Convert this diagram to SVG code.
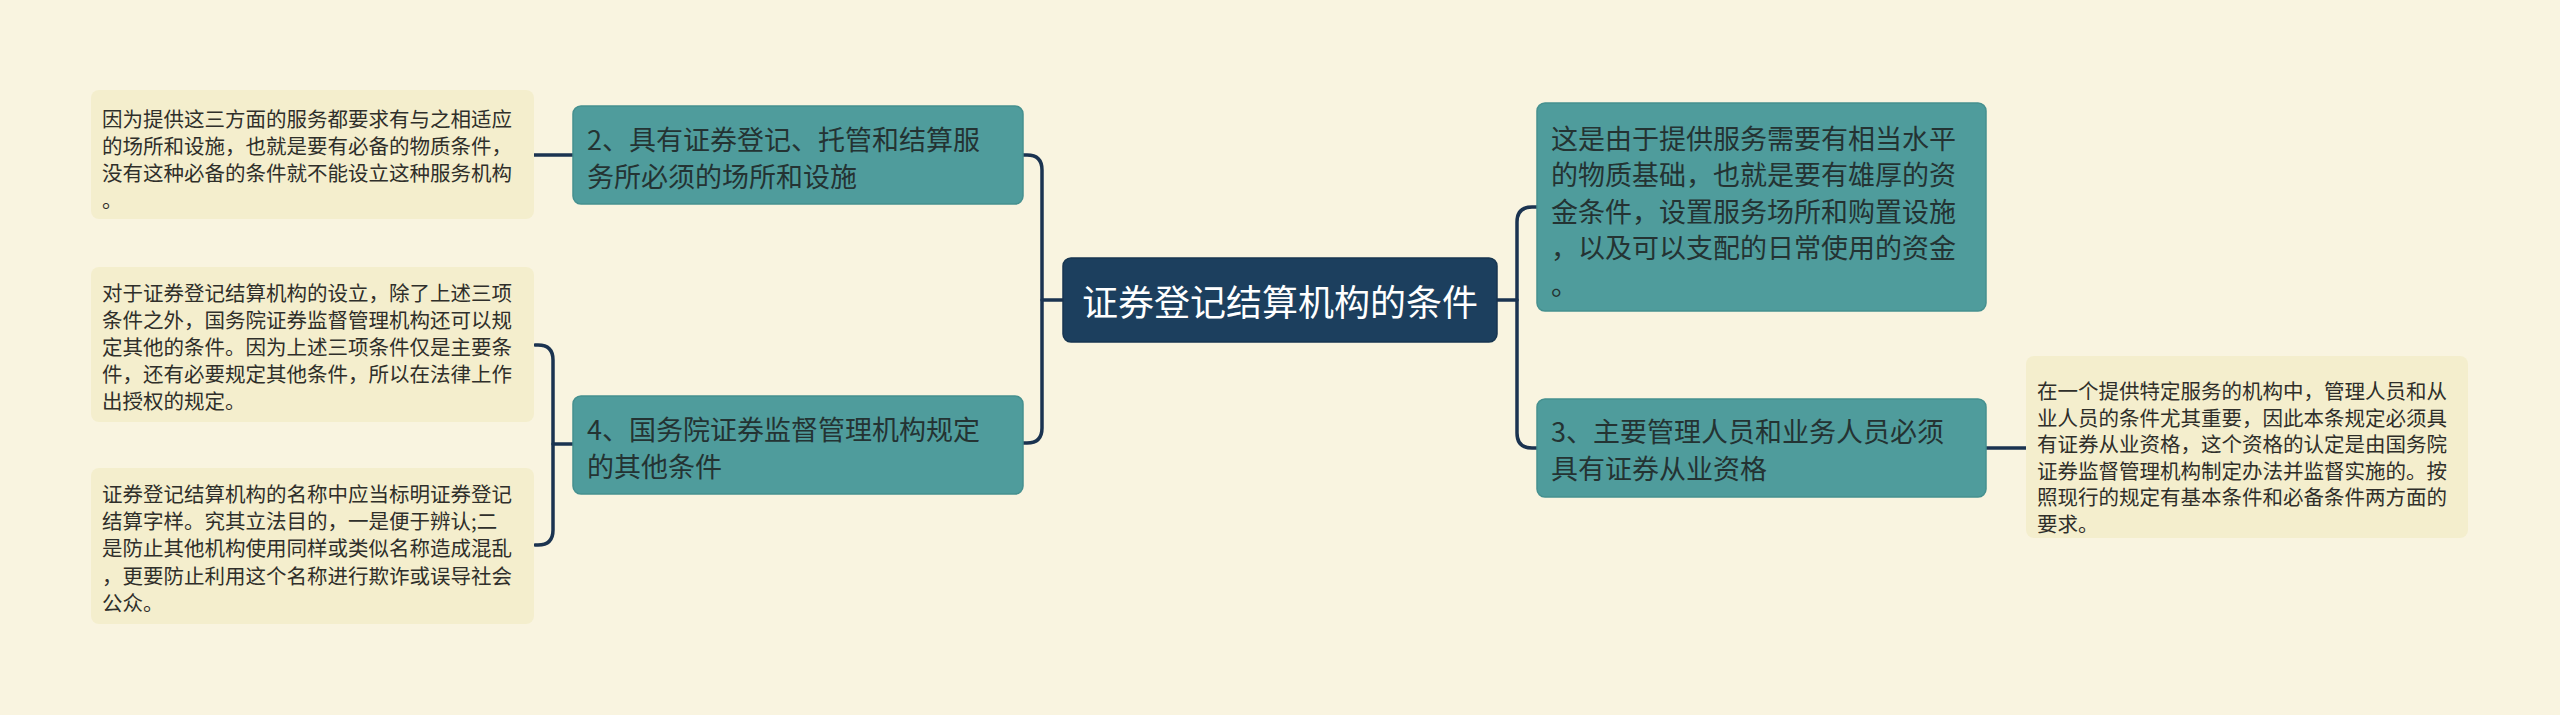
<svg xmlns="http://www.w3.org/2000/svg" width="2560" height="715" viewBox="0 0 2560 715">
<style>
.bg{fill:#f9f4e0}
.leaf{fill:#f4eecd;stroke:none}
.branch{fill:#4f9c9c;stroke:#45908f;stroke-width:1.5}
.root{fill:#1c3f5e;stroke:#173550;stroke-width:1.5}
.conn{fill:none;stroke:#1b3350;stroke-width:3.5;stroke-linecap:round}
text{font-family:"Noto Sans CJK SC","Noto Sans",sans-serif;dominant-baseline:central}
.lt{font-size:20.5px;fill:#2f2f2a}
.bt{font-size:27px;fill:#243333}
.rt{font-size:36px;fill:#ffffff}
</style>
<rect class="bg" x="0" y="0" width="2560" height="715"/>
<g id="connectors">
<path class="conn" d="M1063 300 H1042"/>
<path class="conn" d="M1023 155 H1027 Q1042 155 1042 170 V428 Q1042 443 1027 443 H1023"/>
<path class="conn" d="M1497 300 H1517"/>
<path class="conn" d="M1537 207 H1532 Q1517 207 1517 222 V433 Q1517 448 1532 448 H1537"/>
<path class="conn" d="M534 155 H573"/>
<path class="conn" d="M573 444 H553"/>
<path class="conn" d="M535 345 H538 Q553 345 553 360 V530 Q553 545 538 545 H535"/>
<path class="conn" d="M1986 448 H2026"/>
</g>
<g id="root">
<rect class="root" x="1063" y="258" width="434" height="84" rx="8"/>
<text class="rt" x="1280" y="300" text-anchor="middle">证券登记结算机构的条件</text>
</g>
<g id="b2">
<rect class="branch" x="573" y="106" width="450" height="98" rx="8"/>
<text class="bt" x="587" y="138">2、具有证券登记、托管和结算服</text>
<text class="bt" x="587" y="175">务所必须的场所和设施</text>
</g>
<g id="b4">
<rect class="branch" x="573" y="396" width="450" height="98" rx="8"/>
<text class="bt" x="587" y="428">4、国务院证券监督管理机构规定</text>
<text class="bt" x="587" y="465">的其他条件</text>
</g>
<g id="b1">
<rect class="branch" x="1537" y="103" width="449" height="208" rx="8"/>
<text class="bt" x="1551" y="137">这是由于提供服务需要有相当水平</text>
<text class="bt" x="1551" y="173">的物质基础，也就是要有雄厚的资</text>
<text class="bt" x="1551" y="210">金条件，设置服务场所和购置设施</text>
<text class="bt" x="1551" y="246">，以及可以支配的日常使用的资金</text>
<text class="bt" x="1551" y="283">。</text>
</g>
<g id="b3">
<rect class="branch" x="1537" y="399" width="449" height="98" rx="8"/>
<text class="bt" x="1551" y="430">3、主要管理人员和业务人员必须</text>
<text class="bt" x="1551" y="467">具有证券从业资格</text>
</g>
<g id="l1">
<rect class="leaf" x="91" y="90" width="443" height="129" rx="8"/>
<text class="lt" x="102" y="118">因为提供这三方面的服务都要求有与之相适应</text>
<text class="lt" x="102" y="145">的场所和设施，也就是要有必备的物质条件，</text>
<text class="lt" x="102" y="172">没有这种必备的条件就不能设立这种服务机构</text>
<text class="lt" x="102" y="199">。</text>
</g>
<g id="l2">
<rect class="leaf" x="91" y="267" width="443" height="155" rx="8"/>
<text class="lt" x="102" y="292">对于证券登记结算机构的设立，除了上述三项</text>
<text class="lt" x="102" y="319">条件之外，国务院证券监督管理机构还可以规</text>
<text class="lt" x="102" y="346">定其他的条件。因为上述三项条件仅是主要条</text>
<text class="lt" x="102" y="373">件，还有必要规定其他条件，所以在法律上作</text>
<text class="lt" x="102" y="400">出授权的规定。</text>
</g>
<g id="l3">
<rect class="leaf" x="91" y="468" width="443" height="156" rx="8"/>
<text class="lt" x="102" y="493">证券登记结算机构的名称中应当标明证券登记</text>
<text class="lt" x="102" y="520">结算字样。究其立法目的，一是便于辨认;二</text>
<text class="lt" x="102" y="547">是防止其他机构使用同样或类似名称造成混乱</text>
<text class="lt" x="102" y="575">，更要防止利用这个名称进行欺诈或误导社会</text>
<text class="lt" x="102" y="602">公众。</text>
</g>
<g id="l4">
<rect class="leaf" x="2026" y="356" width="442" height="182" rx="8"/>
<text class="lt" x="2037" y="390">在一个提供特定服务的机构中，管理人员和从</text>
<text class="lt" x="2037" y="416.5">业人员的条件尤其重要，因此本条规定必须具</text>
<text class="lt" x="2037" y="443">有证券从业资格，这个资格的认定是由国务院</text>
<text class="lt" x="2037" y="469.5">证券监督管理机构制定办法并监督实施的。按</text>
<text class="lt" x="2037" y="496">照现行的规定有基本条件和必备条件两方面的</text>
<text class="lt" x="2037" y="522.5">要求。</text>
</g>
</svg>
